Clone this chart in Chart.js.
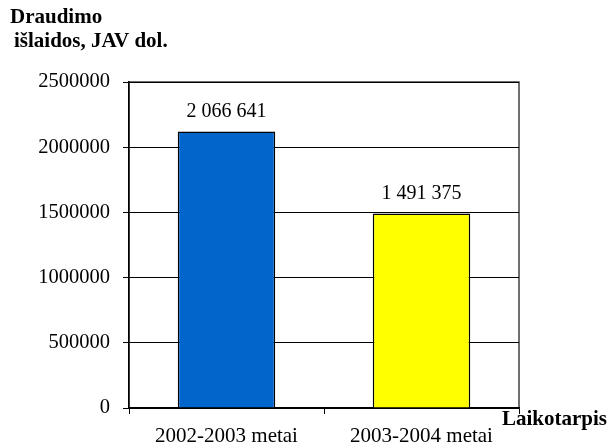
<!DOCTYPE html>
<html>
<head>
<meta charset="utf-8">
<script src="https://cdn.jsdelivr.net/npm/chart.js@4"></script>
<style>
  body { margin: 0; background: #fff; }
  #wrap { width: 608px; height: 448px; }
</style>
</head>
<body>
<div id="wrap"><canvas id="canvas" width="608" height="448"></canvas></div>
<script>
// categories on the X-axis
let periods = ['2002-2003 metai', '2003-2004 metai'];
// bar heights as drawn in the picture
let spending = [2120000, 1491375];
// value labels printed above the bars
let valueLabels = ['2 066 641', '1 491 375'];
let barColors = ['#0066CC', '#FFFF00'];
let yTicks = [0, 500000, 1000000, 1500000, 2000000, 2500000];

let serif = '"Liberation Serif", "Times New Roman", serif';

// frame, titles and value labels
let extras = {
    id: 'extras',
    beforeDraw(chart) {
        let ctx = chart.ctx, a = chart.chartArea;
        ctx.save();
        ctx.strokeStyle = '#404040';
        ctx.lineWidth = 1.5;
        ctx.strokeRect(a.left, a.top, a.right - a.left, a.bottom - a.top);
        ctx.restore();
    },
    afterDatasetsDraw(chart) {
        let ctx = chart.ctx;
        ctx.save();
        ctx.fillStyle = '#000';
        ctx.font = '20px ' + serif;
        ctx.textAlign = 'center';
        ctx.textBaseline = 'alphabetic';
        chart.getDatasetMeta(0).data.forEach((bar, i) => {
            ctx.fillText(valueLabels[i], bar.x, bar.y - 15);
        });
        ctx.font = 'bold 21px ' + serif;
        ctx.textAlign = 'left';
        ctx.fillText('Draudimo', 10, 23);
        ctx.fillText('išlaidos, JAV dol.', 14, 47);
        ctx.fillText('Laikotarpis', 502, 425);
        ctx.restore();
    }
};

new Chart(document.getElementById('canvas'), {
    type: 'bar',
    data: {
        labels: periods,
        datasets: [{
            data: spending,
            backgroundColor: barColors,
            borderColor: '#000',
            borderWidth: 1.5,
            barPercentage: 0.5,
            categoryPercentage: 1
        }]
    },
    options: {
        responsive: false,
        animation: false,
        devicePixelRatio: 1,
        layout: { padding: { top: 82, right: 89, left: 0, bottom: 0 } },
        plugins: { legend: { display: false }, tooltip: { enabled: false } },
        scales: {
            x: {
                afterFit(scale) { scale.height = 40; },
                grid: { offset: true, drawOnChartArea: false, drawTicks: true, tickLength: 6, color: '#000' },
                border: { color: '#000', width: 1.5 },
                ticks: { color: '#000', font: { family: serif, size: 21 }, padding: 10 }
            },
            y: {
                min: 0,
                max: 2500000,
                afterFit(scale) { scale.width = 129; },
                afterBuildTicks(scale) { scale.ticks = yTicks.map(v => ({ value: v })); },
                grid: { color: '#000', tickLength: 6, lineWidth: 1 },
                border: { color: '#000', width: 1.5 },
                ticks: {
                    color: '#000',
                    font: { family: serif, size: 20.5 },
                    padding: 13,
                    callback: v => String(v)
                }
            }
        }
    },
    plugins: [extras]
});
</script>
</body>
</html>
